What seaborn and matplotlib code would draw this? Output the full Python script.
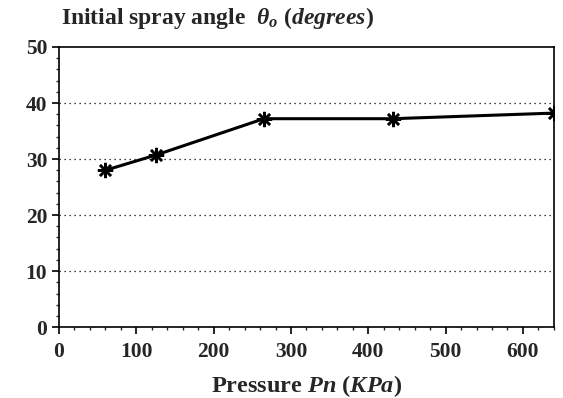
import matplotlib
matplotlib.use("Agg")
import matplotlib.pyplot as plt
import seaborn as sns
import pandas as pd
from matplotlib.ticker import MultipleLocator

pressure = [60, 125, 265, 432, 640]
angle = [28.0, 30.7, 37.2, 37.2, 38.2]
x_ticks = [0, 100, 200, 300, 400, 500, 600]
y_ticks = [0, 10, 20, 30, 40, 50]

sns.set_style("ticks")
plt.rcParams['font.family'] = ['Liberation Serif', 'DejaVu Serif']
plt.rcParams['font.weight'] = 'bold'
plt.rcParams['mathtext.fontset'] = 'custom'
plt.rcParams['mathtext.rm'] = 'Liberation Serif:bold'
plt.rcParams['mathtext.it'] = 'Liberation Serif:bold:italic'
plt.rcParams['mathtext.bf'] = 'Liberation Serif:bold'

df = pd.DataFrame({"Pressure": pressure, "Angle": angle})

fig = plt.figure(figsize=(5.63, 3.98), dpi=100)
ax = fig.add_axes([0.1048, 0.178, 0.879, 0.704])

sns.lineplot(data=df, x="Pressure", y="Angle", ax=ax, color="black",
             linewidth=2.2, marker=(8, 2, 0), markersize=11,
             markeredgewidth=1.8, markeredgecolor="black")

ax.set_xlim(0, 640)
ax.set_ylim(0, 50)
ax.set_xticks(x_ticks)
ax.set_yticks(y_ticks)
ax.xaxis.set_minor_locator(MultipleLocator(20))
ax.yaxis.set_minor_locator(MultipleLocator(2))
ax.tick_params(axis="both", which="major", labelsize=15.5, length=5, width=1.2,
               direction="out", color="black")
ax.tick_params(axis="x", which="major", pad=6)
ax.tick_params(axis="both", which="minor", length=2.5, width=1, direction="out")
for lab in ax.get_xticklabels() + ax.get_yticklabels():
    lab.set_fontweight("bold")

for y in [10, 20, 30, 40]:
    ax.axhline(y, color="black", linestyle=(0, (1, 3)), linewidth=0.9, zorder=0)

for s in ax.spines.values():
    s.set_visible(True)
    s.set_color("black")
    s.set_linewidth(1.2)

ax.set_xlabel("")
ax.set_ylabel("")
fig.text(0.545, 0.016, r"Pressure $Pn\ (KPa)$", fontsize=17.5,
         fontweight="bold", ha="center", va="baseline")
fig.text(0.108, 0.955, r"Initial spray angle  $\theta_o\ (degrees)$",
         fontsize=17, fontweight="bold", ha="left", va="center")

fig.savefig("out.png", dpi=100)
